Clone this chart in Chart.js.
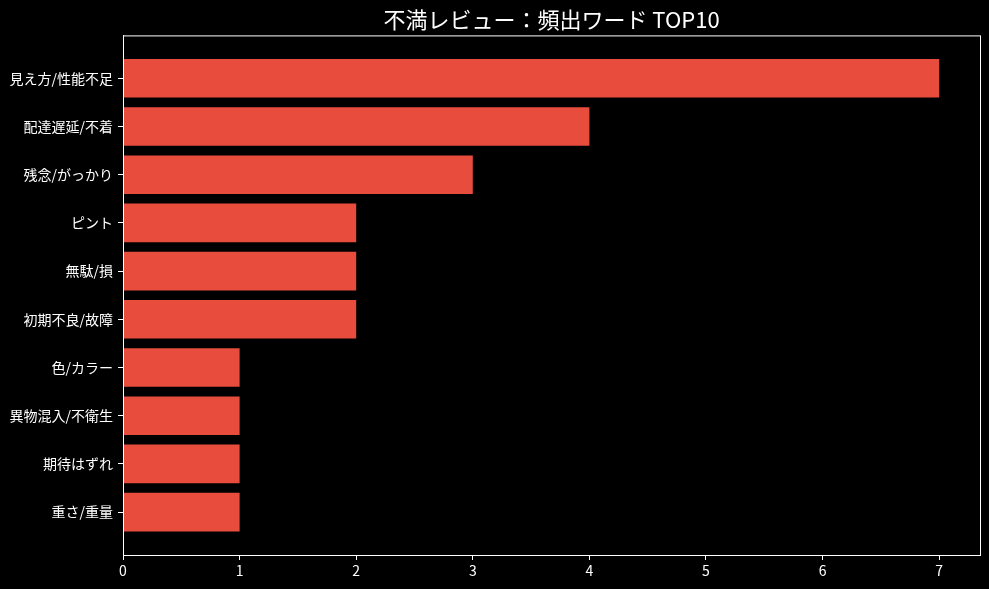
<!DOCTYPE html>
<html lang="ja">
<head>
<meta charset="utf-8">
<title>不満レビュー：頻出ワード TOP10</title>
<script src="https://cdn.jsdelivr.net/npm/chart.js@4.4.1/dist/chart.umd.min.js"></script>
<style>
    html, body { margin: 0; padding: 0; background: #000; }
    canvas { display: block; }
</style>
</head>
<body>
<canvas id="chart" width="989" height="589"></canvas>
<script>
// Data (top to bottom)
const categories = [
    "見え方/性能不足",
    "配達遅延/不着",
    "残念/がっかり",
    "ピント",
    "無駄/損",
    "初期不良/故障",
    "色/カラー",
    "異物混入/不衛生",
    "期待はずれ",
    "重さ/重量"
];
const counts = [7, 4, 3, 2, 2, 2, 1, 1, 1, 1];
const xTicks = [0, 1, 2, 3, 4, 5, 6, 7];

const FONT = "'Noto Sans CJK JP', 'Noto Sans', sans-serif";

// draw the full box around the plot area
const frame = {
    id: "frame",
    afterDatasetsDraw(chart) {
        const { ctx, chartArea: a } = chart;
        ctx.save();
        ctx.strokeStyle = "#ffffff";
        ctx.lineWidth = 1;
        ctx.strokeRect(a.left + 0.5, a.top + 0.5, a.right - a.left, a.bottom - a.top);
        ctx.restore();
    }
};

const ctx = document.getElementById("chart").getContext("2d");
new Chart(ctx, {
    type: "bar",
    data: {
        datasets: [{
            data: counts.map((v, i) => ({ x: v, y: i })),
            backgroundColor: "#e74c3c",
            borderWidth: 0,
            barPercentage: 0.8,
            categoryPercentage: 1.0
        }]
    },
    options: {
        indexAxis: "y",
        responsive: false,
        animation: false,
        layout: { padding: { left: 0, right: 9, top: 0, bottom: 0 } },
        plugins: {
            legend: { display: false },
            tooltip: { enabled: false },
            title: {
                display: true,
                fullSize: false,
                text: "不満レビュー：頻出ワード TOP10",
                color: "#ffffff",
                font: { family: FONT, size: 22, weight: "normal" },
                padding: { top: 6, bottom: 3 }
            }
        },
        scales: {
            x: {
                type: "linear",
                min: 0,
                max: 7.35,
                afterBuildTicks: (s) => { s.ticks = xTicks.map(v => ({ value: v })); },
                afterFit: (s) => { s.height = 34; },
                grid: { drawOnChartArea: false, drawTicks: true, tickLength: 5, color: "#ffffff" },
                border: { color: "#ffffff" },
                ticks: {
                    color: "#ffffff",
                    font: { family: FONT, size: 14 },
                    padding: 2
                }
            },
            y: {
                type: "linear",
                reverse: true,
                offset: false,
                min: -0.89,
                max: categories.length - 1 + 0.89,
                afterBuildTicks: (s) => { s.ticks = categories.map((c, i) => ({ value: i })); },
                afterFit: (s) => { s.width = 123; },
                grid: { offset: false, drawOnChartArea: false, drawTicks: true, tickLength: 5, color: "#ffffff" },
                border: { color: "#ffffff" },
                ticks: {
                    color: "#ffffff",
                    font: { family: FONT, size: 14 },
                    padding: 5,
                    callback: (v) => categories[v]
                }
            }
        }
    },
    plugins: [frame]
});
</script>
</body>
</html>
